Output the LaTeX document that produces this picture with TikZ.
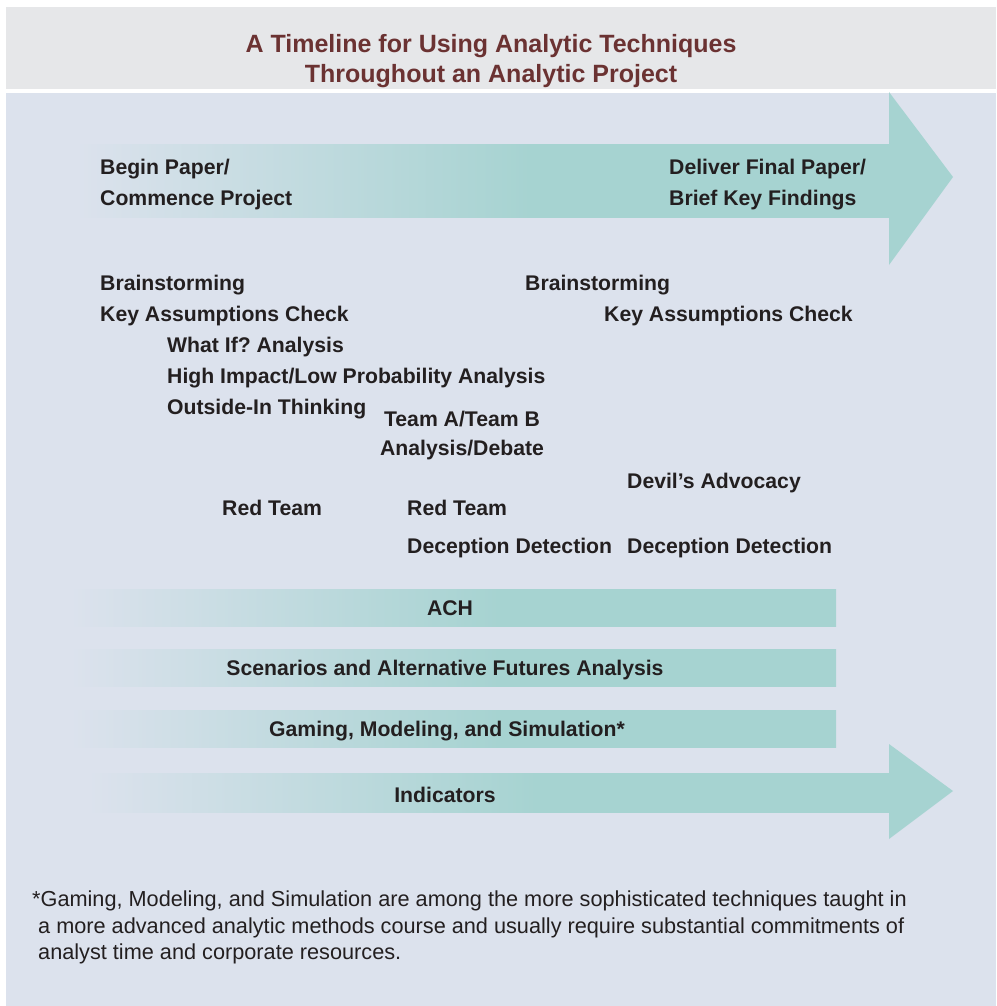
\documentclass[tikz,border=0pt]{standalone}
\usepackage{fontspec}
\setmainfont{Liberation Sans}
\frenchspacing
\definecolor{hdr}{HTML}{E6E7E9}
\definecolor{pnl}{HTML}{DCE2ED}
\definecolor{tl}{HTML}{A6D3D1}
\definecolor{ttl}{HTML}{6B3232}
\definecolor{ink}{HTML}{231F20}
\pgfdeclarehorizontalshading{barfade}{100bp}{color(0bp)=(pnl); color(25bp)=(pnl); color(53bp)=(tl); color(100bp)=(tl)}
\tikzset{
  lbl/.style={font=\fontsize{21.2}{25}\selectfont\bfseries, text=ink, inner sep=0pt, anchor=base west},
  clbl/.style={lbl, anchor=base},
  ttlsty/.style={font=\fontsize{25}{30}\selectfont\bfseries, text=ttl, inner sep=0pt, anchor=base},
  note/.style={font=\fontsize{21.7}{25}\selectfont, text=ink, inner sep=0pt, anchor=base west},
  fade/.style={shading=barfade, draw=none}
}
\begin{document}
\begin{tikzpicture}[x=1pt,y=-1pt]
\useasboundingbox (0,0) rectangle (996,1006);
% background
\fill[white] (0,0) rectangle (996,1006);
\fill[hdr] (6,7) rectangle (996,89);
\fill[pnl] (6,93) rectangle (996,1006);
% title
\node[ttlsty] (t1) at (491,53) {A Timeline for Using Analytic Techniques};
\node[ttlsty] (t2) at (491,83) {Throughout an Analytic Project};
% top timeline arrow
\shade[fade] (75,144) rectangle (889.5,217);
\fill[tl] (889,92) -- (953,177) -- (889,265) -- cycle;
% bars
\shade[fade] (70,589) rectangle (836,626);
\shade[fade] (70,649) rectangle (836,686);
\shade[fade] (70,710) rectangle (836,747);
% indicators arrow
\shade[fade] (87,773) rectangle (889.5,812);
\fill[tl] (889,744) -- (953,791) -- (889,839) -- cycle;
% labels
\node[lbl] (bp) at (100,174) {Begin Paper/};
\node[lbl] (cp) at (100,205) {Commence Project};
\node[lbl] (dp) at (669,174) {Deliver Final Paper/};
\node[lbl] (bk) at (669,205) {Brief Key Findings};
\node[lbl] (b1) at (100,290) {Brainstorming};
\node[lbl] (k1) at (100,321) {Key Assumptions Check};
\node[lbl] (wi) at (167,352) {What If? Analysis};
\node[lbl] (hi) at (167,383) {High Impact/Low Probability Analysis};
\node[lbl] (oi) at (167,414) {Outside-In Thinking};
\node[clbl] (ta) at (462,426) {Team A/Team B};
\node[clbl] (ad) at (462,455) {Analysis/Debate};
\node[lbl] (b2) at (525,290) {Brainstorming};
\node[lbl] (k2) at (604,321) {Key Assumptions Check};
\node[lbl] (da) at (627,488) {Devil’s Advocacy};
\node[lbl] (r1) at (222,515) {Red Team};
\node[lbl] (r2) at (407,515) {Red Team};
\node[lbl] (d1) at (407,553) {Deception Detection};
\node[lbl] (d2) at (627,553) {Deception Detection};
\node[clbl] (ach) at (450,615) {ACH};
\node[clbl] (sc) at (445,675) {Scenarios and Alternative Futures Analysis};
\node[clbl] (gm) at (447,736) {Gaming, Modeling, and Simulation*};
\node[clbl] (ind) at (445,802) {Indicators};
% footnote
\node[note] (n1) at (32,906) {*Gaming, Modeling, and Simulation are among the more sophisticated techniques taught in};
\node[note] (n2) at (38,933) {a more advanced analytic methods course and usually require substantial commitments of};
\node[note] (n3) at (38,959) {analyst time and corporate resources.};
\end{tikzpicture}
\end{document}
